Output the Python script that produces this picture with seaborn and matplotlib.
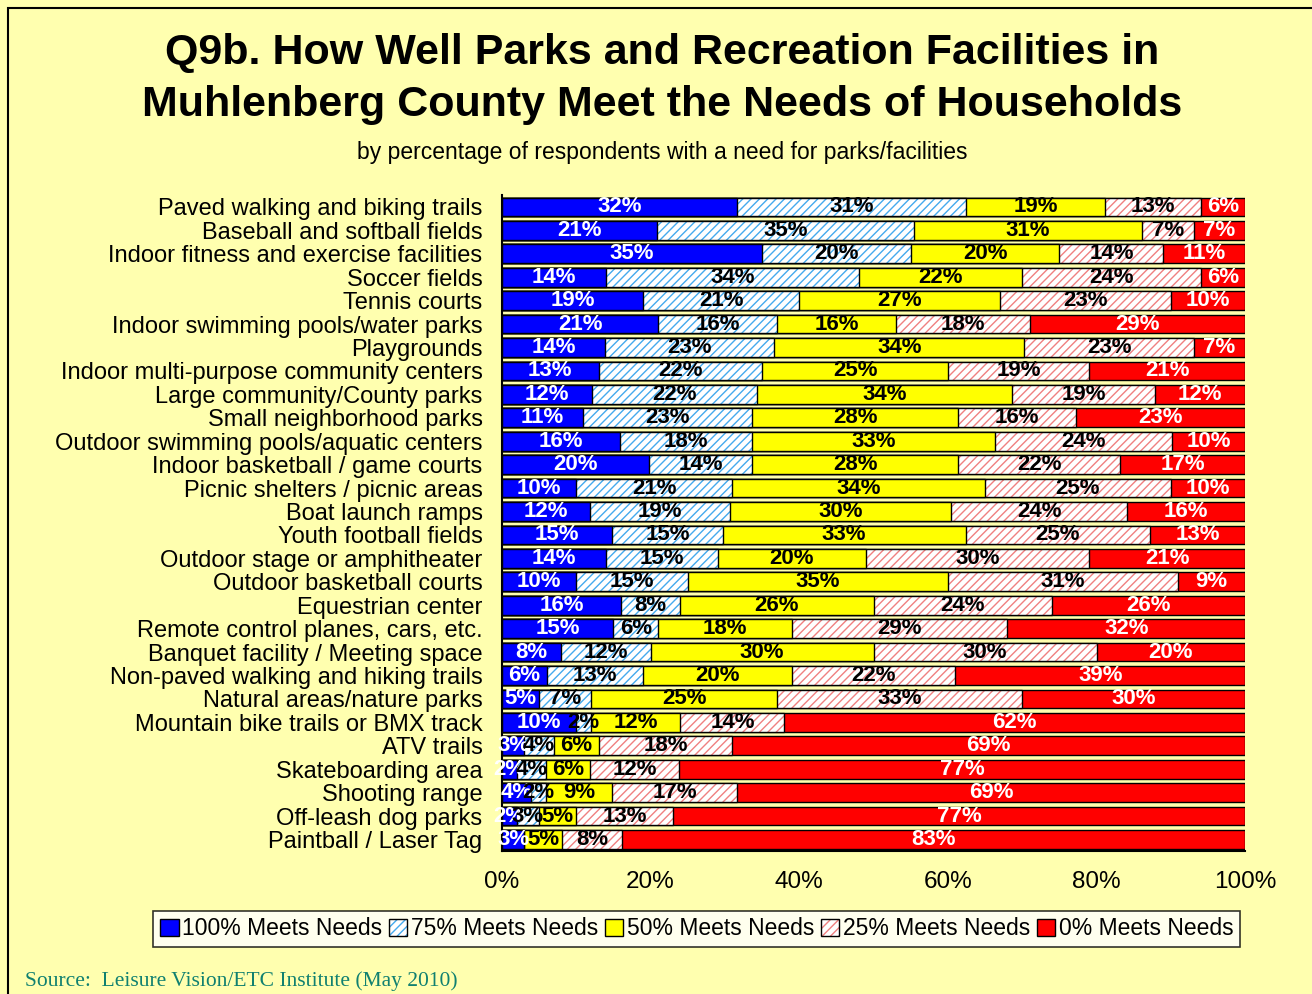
import pandas as pd
import matplotlib.pyplot as plt
import matplotlib.colors as mcolors
from matplotlib.patches import Rectangle, Patch
import seaborn as sns

# Facilities, top to bottom
facilities = [
    'Paved walking and biking trails',
    'Baseball and softball fields',
    'Indoor fitness and exercise facilities',
    'Soccer fields',
    'Tennis courts',
    'Indoor swimming pools/water parks',
    'Playgrounds',
    'Indoor multi-purpose community centers',
    'Large community/County parks',
    'Small neighborhood parks',
    'Outdoor swimming pools/aquatic centers',
    'Indoor basketball / game courts',
    'Picnic shelters / picnic areas',
    'Boat launch ramps',
    'Youth football fields',
    'Outdoor stage or amphitheater',
    'Outdoor basketball courts',
    'Equestrian center',
    'Remote control planes, cars, etc.',
    'Banquet facility / Meeting space',
    'Non-paved walking and hiking trails',
    'Natural areas/nature parks',
    'Mountain bike trails or BMX track',
    'ATV trails',
    'Skateboarding area',
    'Shooting range',
    'Off-leash dog parks',
    'Paintball / Laser Tag',
]

meets_100 = [32, 21, 35, 14, 19, 21, 14, 13, 12, 11, 16, 20, 10, 12, 15, 14, 10, 16, 15, 8, 6, 5, 10, 3, 2, 4, 2, 3]
meets_75 = [31, 35, 20, 34, 21, 16, 23, 22, 22, 23, 18, 14, 21, 19, 15, 15, 15, 8, 6, 12, 13, 7, 2, 4, 4, 2, 3, 0]
meets_50 = [19, 31, 20, 22, 27, 16, 34, 25, 34, 28, 33, 28, 34, 30, 33, 20, 35, 26, 18, 30, 20, 25, 12, 6, 6, 9, 5, 5]
meets_25 = [13, 7, 14, 24, 23, 18, 23, 19, 19, 16, 24, 22, 25, 24, 25, 30, 31, 24, 29, 30, 22, 33, 14, 18, 12, 17, 13, 8]
meets_0 = [6, 7, 11, 6, 10, 29, 7, 21, 12, 23, 10, 17, 10, 16, 13, 21, 9, 26, 32, 20, 39, 30, 62, 69, 77, 69, 77, 83]

series_names = ['100% Meets Needs', '75% Meets Needs', '50% Meets Needs',
                '25% Meets Needs', '0% Meets Needs']
series_values = [meets_100, meets_75, meets_50, meets_25, meets_0]
x_ticks = [0, 20, 40, 60, 80, 100]

# style per series: face, hatch, hatch colour, label colour
styles = [
    ('#0000FF', '', None, 'white'),
    ('white', '////', '#44AAEE', 'black'),
    ('#FFFF00', '', None, 'black'),
    ('white', '////', '#F08080', 'black'),
    ('#FF0000', '', None, 'white'),
]

bg = '#FFFFAF'
sns.set_style('white')
plt.rcParams['font.family'] = ['Liberation Sans', 'DejaVu Sans']
plt.rcParams['hatch.linewidth'] = 1.0
for k in ['text.color', 'axes.labelcolor', 'xtick.color', 'ytick.color']:
    plt.rcParams[k] = 'black'

df = pd.DataFrame({'Facility': facilities})
for name, vals in zip(series_names, series_values):
    df[name] = vals
# 100% stacked: each row normalised to its total
totals = df[series_names].sum(axis=1)
share = df[series_names].div(totals, axis=0) * 100
cum = share.cumsum(axis=1)
cum['Facility'] = facilities

fig = plt.figure(figsize=(13.12, 9.94), dpi=100, facecolor=bg)
ax = fig.add_axes([0.3826, 0.1436, 0.5665, 0.660])
ax.set_facecolor(bg)

# stacked bars: draw cumulative totals from longest to shortest
for i in reversed(range(len(series_names))):
    face, hatch, hcol, _ = styles[i]
    n_before = len(ax.patches)
    sns.barplot(data=cum, x=series_names[i], y='Facility',
                orient='h', color=face, edgecolor='black', linewidth=1.0,
                width=0.8, saturation=1, ax=ax, order=facilities)
    for p in ax.patches[n_before:]:
        p.set_facecolor(face)
        if hatch:
            p.set_hatch(hatch)
            if hasattr(p, 'set_hatchcolor'):
                p.set_hatchcolor(hcol)
            else:
                p._hatch_color = mcolors.to_rgba(hcol)

# value labels in the middle of each segment
for i, name in enumerate(series_names):
    txt_col = styles[i][3]
    for row in range(len(facilities)):
        v = df[name][row]
        if v < 2:
            continue
        mid = cum[name][row] - share[name][row] / 2
        ax.text(mid, row, f'{v}%', ha='center', va='center',
                color=txt_col, fontsize=16, fontweight='bold',
                family=['Liberation Sans Narrow', 'Liberation Sans'])

ax.set_xlim(0, 100)
ax.set_xticks(x_ticks)
ax.set_xticklabels([f'{t}%' for t in x_ticks], fontsize=17.5)
ax.tick_params(axis='x', length=0, pad=14)
ax.tick_params(axis='y', length=0, pad=14, labelsize=17)
ax.set_xlabel('')
ax.set_ylabel('')
for s in ['top', 'right']:
    ax.spines[s].set_visible(False)
for s in ['left', 'bottom']:
    ax.spines[s].set_color('black')
    ax.spines[s].set_linewidth(1.5)

# titles
fig.text(0.505, 0.947, 'Q9b. How Well Parks and Recreation Facilities in',
         ha='center', va='center', fontsize=31, fontweight='bold')
fig.text(0.505, 0.894, 'Muhlenberg County Meet the Needs of Households',
         ha='center', va='center', fontsize=31, fontweight='bold')
fig.text(0.505, 0.847, 'by percentage of respondents with a need for parks/facilities',
         ha='center', va='center', fontsize=16.5)

# legend
handles = []
for i, name in enumerate(series_names):
    face, hatch, hcol, _ = styles[i]
    h = Patch(facecolor=face, edgecolor='black', hatch=hatch, label=name)
    if hatch:
        if hasattr(h, 'set_hatchcolor'):
            h.set_hatchcolor(hcol)
        else:
            h._hatch_color = mcolors.to_rgba(hcol)
    handles.append(h)
leg = fig.legend(handles=handles, loc='center', bbox_to_anchor=(0.531, 0.0655),
                 ncol=5, frameon=True, fancybox=False, edgecolor='black',
                 fontsize=16.5, handlelength=0.8, handleheight=0.8,
                 handletextpad=0.15, columnspacing=0.3, borderpad=0.3)
leg.get_frame().set_linewidth(1.2)
leg.get_frame().set_facecolor('white')

# source note
fig.text(0.019, 0.003, 'Source:  Leisure Vision/ETC Institute (May 2010)',
         ha='left', va='bottom', fontsize=15.5, color='#108070',
         family=['Liberation Serif', 'DejaVu Serif'])

# outer frame
fig.patches.append(Rectangle((0.006, -0.01), 1.1, 1.002, transform=fig.transFigure,
                             fill=False, edgecolor='black', linewidth=1.5))

fig.savefig('out.png', dpi=100, facecolor=bg)
